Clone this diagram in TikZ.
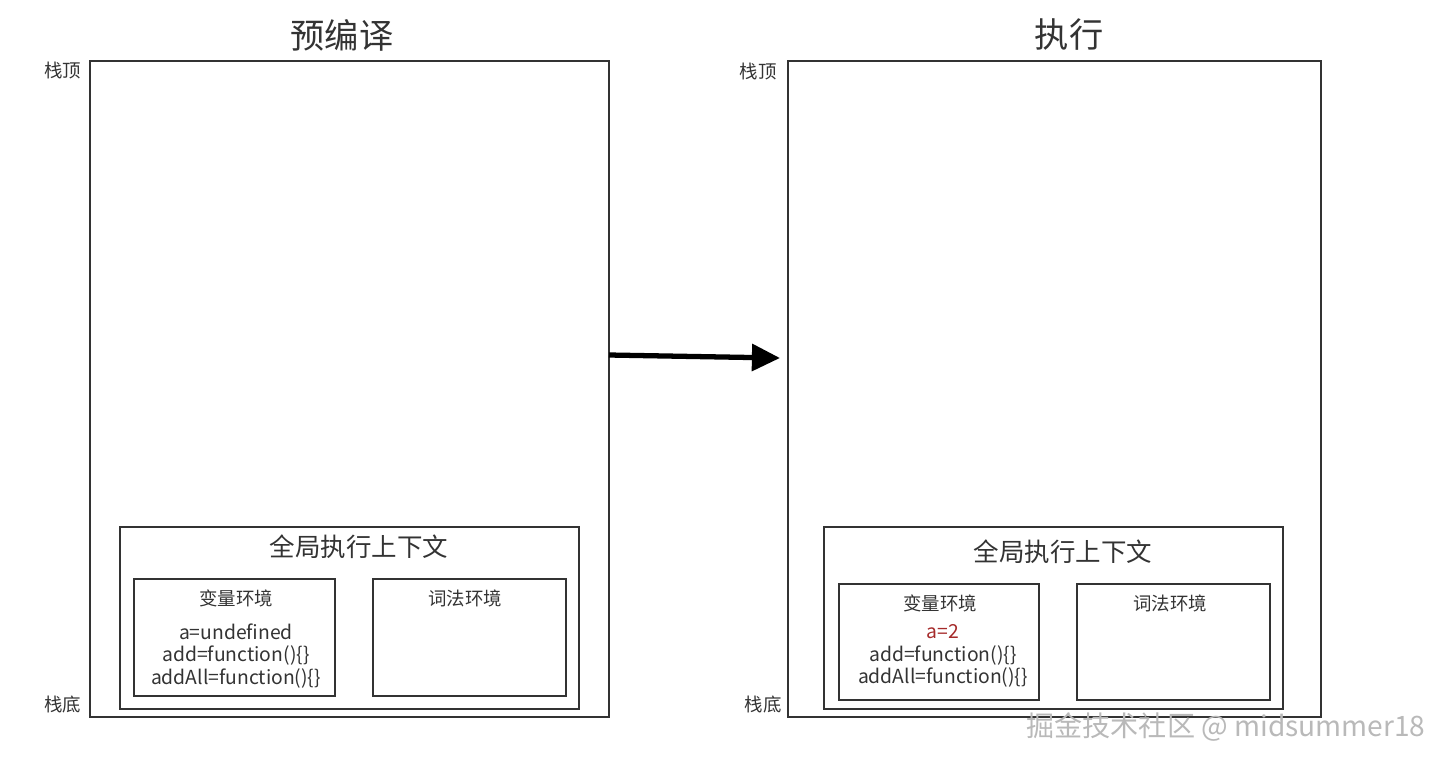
\documentclass[tikz,border=0pt]{standalone}
\usepackage{fontspec}
\setmainfont{Noto Sans CJK SC}
\usetikzlibrary{arrows.meta}
\definecolor{linegray}{HTML}{333333}
\definecolor{valred}{HTML}{A52A2A}
\begin{document}
\begin{tikzpicture}[x=0.02cm,y=-0.02cm]
        \tikzstyle{stack}=[rectangle,draw=linegray,line width=1.1pt,inner sep=0pt]
        \tikzstyle{ctx}=[rectangle,draw=linegray,line width=1.1pt,inner sep=0pt,minimum width=9.18cm,minimum height=3.64cm]
        \tikzstyle{env}=[rectangle,draw=linegray,line width=1.1pt,inner sep=0pt,minimum height=2.33cm]
        \tikzstyle{label}=[text=linegray,inner sep=0pt,font=\fontsize{10.5}{12}\selectfont]
        \tikzstyle{vars}=[text=linegray,inner sep=0pt,align=center,font=\fontsize{11}{13}\selectfont]
        \tikzstyle{edge}=[draw=black,line width=3pt,-{Triangle[length=16pt,width=15pt]}]

        \useasboundingbox (0,0) rectangle (1442,762);

        % precompile stage
        \node [stack, minimum width=10.38cm, minimum height=13.12cm] (pre) at (349.5,389) {};
        \node [label, font=\fontsize{19.5}{22}\selectfont] (preT) at (342,35) {预编译};
        \node [label] (preTop) at (62.5,70) {栈顶};
        \node [label] (preBot) at (62.5,704) {栈底};

        \node [ctx] (preCtx) at (349.5,618) {};
        \node [label, font=\fontsize{14.5}{16}\selectfont] (preCtxT) at (359,547) {全局执行上下文};
        \node [env, minimum width=4.02cm] (preVar) at (234.5,637.5) {};
        \node [label] (preVarT) at (236,598) {变量环境};
        \node [vars] (preVals) at (236,656) {a=undefined\\add=function()\{\}\\addAll=function()\{\}};
        \node [env, minimum width=3.86cm] (preLex) at (469.5,637.5) {};
        \node [label] (preLexT) at (465,598) {词法环境};

        % execution stage
        \node [stack, minimum width=10.66cm, minimum height=13.12cm] (exe) at (1054.5,389) {};
        \node [label, font=\fontsize{19.5}{22}\selectfont] (exeT) at (1069,35) {执行};
        \node [label] (exeTop) at (758,72) {栈顶};
        \node [label] (exeBot) at (763,704) {栈底};

        \node [ctx] (exeCtx) at (1053.5,618) {};
        \node [label, font=\fontsize{14.5}{16}\selectfont] (exeCtxT) at (1063,552) {全局执行上下文};
        \node [env, minimum width=4.0cm, minimum height=2.32cm] (exeVar) at (939,642) {};
        \node [label] (exeVarT) at (940,603) {变量环境};
        \node [vars] (exeVals) at (943,656) {\textcolor{valred}{a=2}\\add=function()\{\}\\addAll=function()\{\}};
        \node [env, minimum width=3.86cm, minimum height=2.32cm] (exeLex) at (1173.5,642) {};
        \node [label] (exeLexT) at (1170,603) {词法环境};

        % stage arrow
        \coordinate (arrS) at (609,355);
        \coordinate (arrE) at (780,358);
        \path[edge] (arrS) -- (arrE);

        \node [label, text=gray!55, font=\fontsize{16}{18}\selectfont] (mark) at (1226,727) {掘金技术社区 @ midsummer18};

\end{tikzpicture}
\end{document}
